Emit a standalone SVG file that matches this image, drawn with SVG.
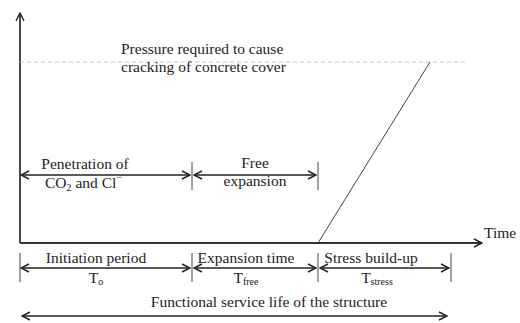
<svg xmlns="http://www.w3.org/2000/svg" width="520" height="323" viewBox="0 0 520 323">
<defs>
<marker id="chev" viewBox="0 0 10 10" refX="9" refY="5" markerWidth="10" markerHeight="10" markerUnits="userSpaceOnUse" orient="auto-start-reverse">
<path d="M1,1 L9,5 L1,9" fill="none" stroke="#222" stroke-width="1.4"/>
</marker>
</defs>
<style>
text{font-family:"Liberation Serif","Times New Roman",serif;font-size:15.5px;fill:#222}
.mid{text-anchor:middle}
.sub{font-size:10px}
.ax{stroke:#333;stroke-width:1.8;fill:none}
.dim{stroke:#222;stroke-width:1.3;fill:none;marker-start:url(#chev);marker-end:url(#chev)}
.tick{stroke:#444;stroke-width:1;fill:none}
</style>
<rect width="520" height="323" fill="#fff"/>
<g id="connectors">
<line class="ax" x1="20" y1="243" x2="20" y2="13" marker-end="url(#chev)"/>
<line class="ax" x1="20" y1="243" x2="482" y2="243" marker-end="url(#chev)"/>
<line x1="20" y1="62" x2="467" y2="62" stroke="#c8c8c8" stroke-width="1" stroke-dasharray="4 3"/>
<line x1="318" y1="243" x2="430" y2="62" stroke="#444" stroke-width="1"/>
<line class="tick" x1="192" y1="162" x2="192" y2="190"/>
<line class="tick" x1="318" y1="162" x2="318" y2="190"/>
<line class="dim" x1="21" y1="175" x2="190" y2="175"/>
<line class="dim" x1="194" y1="175" x2="316" y2="175"/>
<line class="tick" x1="20" y1="253" x2="20" y2="282"/>
<line class="tick" x1="192" y1="253" x2="192" y2="282"/>
<line class="tick" x1="318" y1="253" x2="318" y2="282"/>
<line class="tick" x1="451" y1="253" x2="451" y2="282"/>
<line class="dim" x1="21" y1="268" x2="190" y2="268"/>
<line class="dim" x1="194" y1="268" x2="316" y2="268"/>
<line class="dim" x1="320" y1="268" x2="449" y2="268"/>
<line class="dim" x1="22" y1="316" x2="447" y2="316"/>
</g>
<g id="pressure-label">
<text x="121" y="54">Pressure required to cause</text>
<text x="121" y="72">cracking of concrete cover</text>
</g>
<g id="penetration">
<text class="mid" x="85" y="169">Penetration of</text>
<text x="45" y="188">CO<tspan class="sub" dy="3">2</tspan><tspan dy="-3"> and Cl</tspan><tspan class="sub" dy="-7">−</tspan></text>
</g>
<g id="free-expansion">
<text class="mid" x="255" y="168">Free</text>
<text class="mid" x="255" y="186">expansion</text>
</g>
<g id="time-label">
<text x="484" y="238">Time</text>
</g>
<g id="initiation">
<text class="mid" x="96" y="263">Initiation period</text>
<text class="mid" x="96" y="283">T<tspan class="sub" dy="2">o</tspan></text>
</g>
<g id="expansion-time">
<text class="mid" x="246" y="263">Expansion time</text>
<text class="mid" x="246" y="283">T<tspan class="sub" dy="2">free</tspan></text>
</g>
<g id="stress">
<text class="mid" x="371" y="263">Stress build-up</text>
<text class="mid" x="377" y="283">T<tspan class="sub" dy="2">stress</tspan></text>
</g>
<g id="service-life">
<text class="mid" x="269" y="307">Functional service life of the structure</text>
</g>
</svg>
